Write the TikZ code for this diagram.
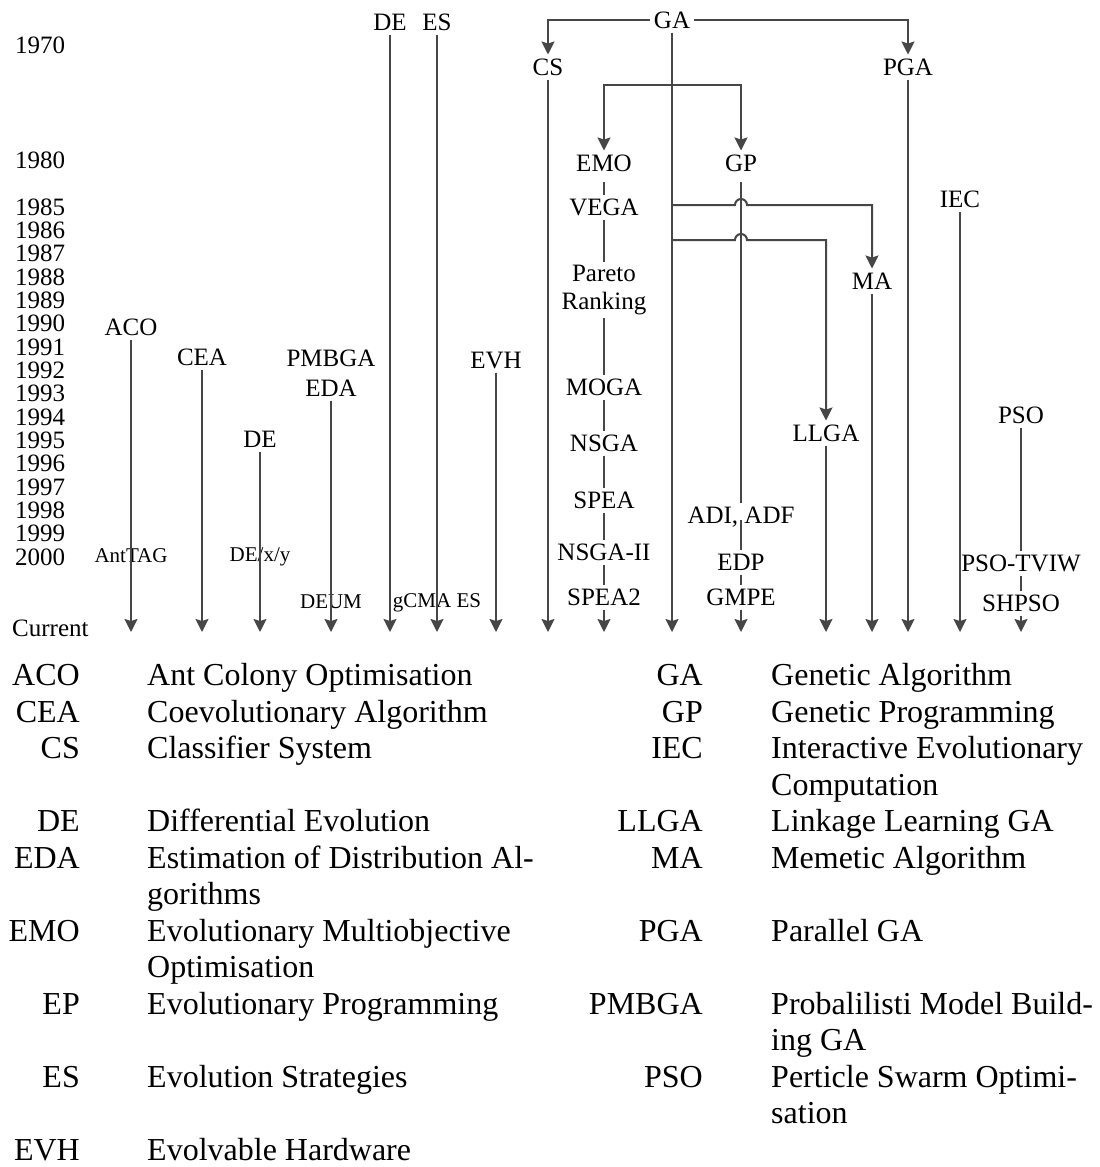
\documentclass[tikz,border=0pt]{standalone}
\usepackage{fontspec}
\setmainfont{Liberation Serif}
\usetikzlibrary{arrows.meta,positioning}
\definecolor{linegray}{RGB}{70,70,70}
\tikzset{
  alg/.style={font=\fontsize{25}{28}\selectfont, inner sep=0pt, outer sep=4pt, text height=17pt, text depth=0pt},
  algtwo/.style={font=\fontsize{25}{28}\selectfont, inner sep=0pt, outer sep=3pt, align=center},
  minor/.style={font=\fontsize{21}{24}\selectfont, inner sep=0pt},
  yr/.style={font=\fontsize{25}{28}\selectfont, inner sep=0pt, text height=17pt, text depth=0pt, anchor=west},
  flow/.style={draw=linegray, line width=2pt},
  thinflow/.style={draw=linegray, line width=1.1pt},
  abbr/.style={font=\fontsize{32}{36.5}\selectfont, inner sep=0pt, anchor=base east, align=right},
  expl/.style={font=\fontsize{32}{36.5}\selectfont, inner sep=0pt, anchor=base west, align=left},
  >={Stealth[length=13pt,width=13pt,inset=2pt]}
}

\begin{document}
\begin{tikzpicture}[x=1pt, y=-1pt]
    \useasboundingbox (0,0) rectangle (1100,1167);

    % Years
    \node[yr] (y1970) at (15,45) {1970};
    \node[yr] (y1980) at (15,160) {1980};
    \node[yr] (y1985) at (15,207) {1985};
    \node[yr] (y1986) at (15,230) {1986};
    \node[yr] (y1987) at (15,253) {1987};
    \node[yr] (y1988) at (15,277) {1988};
    \node[yr] (y1989) at (15,300) {1989};
    \node[yr] (y1990) at (15,323) {1990};
    \node[yr] (y1991) at (15,347) {1991};
    \node[yr] (y1992) at (15,370) {1992};
    \node[yr] (y1993) at (15,393) {1993};
    \node[yr] (y1994) at (15,417) {1994};
    \node[yr] (y1995) at (15,440) {1995};
    \node[yr] (y1996) at (15,463) {1996};
    \node[yr] (y1997) at (15,487) {1997};
    \node[yr] (y1998) at (15,510) {1998};
    \node[yr] (y1999) at (15,533) {1999};
    \node[yr] (y2000) at (15,557) {2000};
    \node[yr] (current) at (12,628) {Current};
    \coordinate (now) at (0,632);

    % Algorithms
    \node[alg] (detop) at (390,22) {DE};
    \node[alg] (es) at (437,22) {ES};
    \node[alg] (ga) at (672,20) {GA};
    \node[alg] (cs) at (548,67) {CS};
    \node[alg] (pga) at (908,67) {PGA};
    \node[alg] (emo) at (604,163) {EMO};
    \node[alg] (gp) at (741,163) {GP};
    \node[alg] (iec) at (960,199) {IEC};
    \node[alg] (ma) at (872,281) {MA};
    \node[alg] (llga) at (826,433) {LLGA};
    \node[alg] (aco) at (131,327) {ACO};
    \node[alg] (cea) at (202,357) {CEA};
    \node[alg] (pmbga) at (331,358) {PMBGA};
    \node[alg] (eda) at (331,388) {EDA};
    \node[alg] (evh) at (496,360) {EVH};
    \node[alg] (de) at (260,439) {DE};
    \node[alg] (pso) at (1021,415) {PSO};

    % Multiobjective branch
    \node[alg] (vega) at (604,207) {VEGA};
    \node[algtwo] (pareto) at (604,290) {Pareto\\Ranking};
    \node[alg] (moga) at (604,387) {MOGA};
    \node[alg] (nsga) at (604,443) {NSGA};
    \node[alg] (spea) at (604,500) {SPEA};
    \node[alg] (nsgaii) at (604,552) {NSGA-II};
    \node[alg] (spea2) at (604,597) {SPEA2};

    % Later variants
    \node[alg] (adf) at (741,515) {ADI, ADF};
    \node[alg] (edp) at (741,562) {EDP};
    \node[alg] (gmpe) at (741,597) {GMPE};
    \node[alg] (tviw) at (1021,563) {PSO-TVIW};
    \node[alg] (shpso) at (1021,603) {SHPSO};
    \node[minor] (anttag) at (131,556) {AntTAG};
    \node[minor] (dexy) at (260,557) {DE/x/y};
    \node[minor] (deum) at (331,602) {DEUM};
    \node[minor] (gcma) at (437,603) {gCMA ES};

    % GA family
    \draw[flow,->] (ga.west) -| (cs);
    \draw[flow,->] (ga.east) -| (pga);
    \draw[flow,->] (ga) -- (ga |- now);
    \coordinate (gasplit) at (ga |- 0,85);
    \draw[flow,->] (gasplit) -| (emo);
    \draw[flow,->] (gasplit) -| (gp);
    \coordinate (gama) at (ga |- 0,205);
    \coordinate (gallga) at (ga |- 0,240);
    \draw[flow,->] (gama) -- ([xshift=-6pt]gp |- gama) arc[start angle=180, end angle=0, radius=6pt] -| (ma);
    \draw[flow,->] (gallga) -- ([xshift=-6pt]gp |- gallga) arc[start angle=180, end angle=0, radius=6pt] -| (llga);

    % EMO chain
    \draw[thinflow, shorten <=6pt] (emo) -- (vega);
    \draw[thinflow] (vega) -- (pareto);
    \draw[thinflow] (pareto) -- (moga);
    \draw[thinflow] (moga) -- (nsga);
    \draw[thinflow] (nsga) -- (spea);
    \draw[thinflow] (spea) -- (nsgaii);
    \draw[thinflow] (nsgaii) -- (spea2);
    \draw[flow,->] (spea2) -- (spea2 |- now);

    % GP chain
    \draw[flow, shorten <=6pt] (gp) -- (adf);
    \draw[thinflow] ([yshift=-5pt]adf.center) -- (edp);
    \draw[thinflow] (edp) -- (gmpe);
    \draw[flow,->] (gmpe) -- (gmpe |- now);

    % PSO chain
    \draw[flow] (pso) -- (tviw);
    \draw[thinflow] (tviw) -- (shpso);
    \draw[flow,->] (shpso) -- (shpso |- now);

    % Other lines
    \draw[flow,->] (cs) -- (cs |- now);
    \draw[flow,->] (pga) -- (pga |- now);
    \draw[flow,->] (ma) -- (ma |- now);
    \draw[flow,->] (llga) -- (llga |- now);
    \draw[flow,->] (iec) -- (iec |- now);
    \draw[flow,->] (detop) -- (detop |- now);
    \draw[flow,->] (es) -- (es |- now);
    \draw[flow,->] (aco) -- (aco |- now);
    \draw[flow,->] (cea) -- (cea |- now);
    \draw[flow,->] (eda) -- (eda |- now);
    \draw[flow,->] (evh) -- (evh |- now);
    \draw[flow,->] (de) -- (de |- now);

    % Legend, left column (two-line entries sit on their last line)
    \node[abbr] (kaco) at (80,685.6) {ACO};
    \node[expl] (taco) at (147,685.6) {Ant Colony Optimisation};
    \node[abbr] (kcea) at (80,722.1) {CEA};
    \node[expl] (tcea) at (147,722.1) {Coevolutionary Algorithm};
    \node[abbr] (kcs) at (80,758.6) {CS};
    \node[expl] (tcs) at (147,758.6) {Classifier System};
    \node[abbr] (kde) at (80,831.6) {DE};
    \node[expl] (tde) at (147,831.6) {Differential Evolution};
    \node[abbr] (keda) at (80,868.1) {EDA};
    \node[expl] (teda) at (147,904.6) {Estimation of Distribution Al-\\gorithms};
    \node[abbr] (kemo) at (80,941.1) {EMO};
    \node[expl] (temo) at (147,977.6) {Evolutionary Multiobjective\\Optimisation};
    \node[abbr] (kep) at (80,1014.1) {EP};
    \node[expl] (tep) at (147,1014.1) {Evolutionary Programming};
    \node[abbr] (kes) at (80,1087.1) {ES};
    \node[expl] (tes) at (147,1087.1) {Evolution Strategies};
    \node[abbr] (kevh) at (80,1160.1) {EVH};
    \node[expl] (tevh) at (147,1160.1) {Evolvable Hardware};

    % Legend, right column
    \node[abbr] (kga) at (703,685.6) {GA};
    \node[expl] (tga) at (771,685.6) {Genetic Algorithm};
    \node[abbr] (kgp) at (703,722.1) {GP};
    \node[expl] (tgp) at (771,722.1) {Genetic Programming};
    \node[abbr] (kiec) at (703,758.6) {IEC};
    \node[expl] (tiec) at (771,795.1) {Interactive Evolutionary\\Computation};
    \node[abbr] (kllga) at (703,831.6) {LLGA};
    \node[expl] (tllga) at (771,831.6) {Linkage Learning GA};
    \node[abbr] (kma) at (703,868.1) {MA};
    \node[expl] (tma) at (771,868.1) {Memetic Algorithm};
    \node[abbr] (kpga) at (703,941.1) {PGA};
    \node[expl] (tpga) at (771,941.1) {Parallel GA};
    \node[abbr] (kpmbga) at (703,1014.1) {PMBGA};
    \node[expl] (tpmbga) at (771,1050.6) {Probalilisti Model Build-\\ing GA};
    \node[abbr] (kpso) at (703,1087.1) {PSO};
    \node[expl] (tpso) at (771,1123.6) {Perticle Swarm Optimi-\\sation};
\end{tikzpicture}
\end{document}
